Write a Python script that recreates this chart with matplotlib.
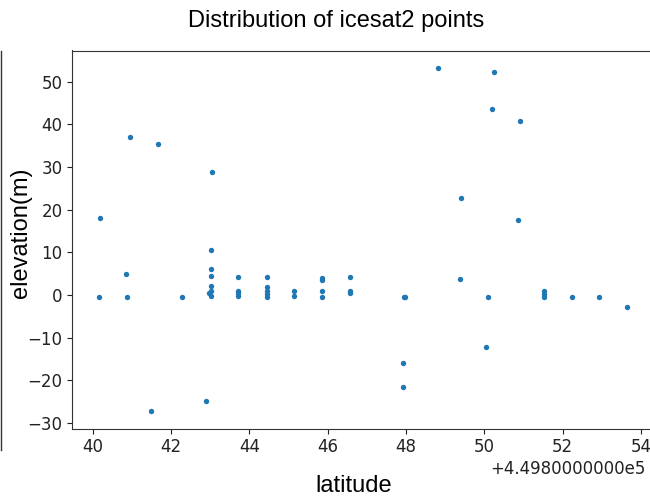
import math
import matplotlib
matplotlib.use("Agg")
import matplotlib.pyplot as plt
from matplotlib.lines import Line2D
from matplotlib.ticker import ScalarFormatter

# icesat2 photon points: latitude and elevation
latitude = [449840.15, 449840.18, 449840.95, 449840.85, 449840.86, 449841.66, 449841.48,
            449842.28, 449842.89, 449843.05, 449843.02, 449843.02, 449843.02, 449843.02,
            449843.02, 449842.97, 449843.02, 449843.71, 449843.71, 449843.71, 449843.71,
            449844.44, 449844.44, 449844.44, 449844.44, 449844.44, 449845.13, 449845.13,
            449845.85, 449845.85, 449845.85, 449845.85, 449846.56, 449846.56, 449846.56,
            449847.95, 449847.98, 449847.93, 449847.93, 449848.81, 449849.40, 449849.39,
            449850.05, 449850.09, 449850.19, 449850.24, 449850.86, 449850.90, 449851.53,
            449851.53, 449851.53, 449852.23, 449852.94, 449853.65]
elevation = [-0.4, 18.0, 37.0, 4.9, -0.4, 35.3, -27.3,
             -0.4, -24.9, 28.8, 10.5, 6.0, 4.5, 2.1,
             1.0, 0.5, -0.3, 4.1, 1.0, 0.4, -0.3,
             4.1, 1.9, 1.0, 0.3, -0.4, 1.0, -0.3,
             4.0, 3.4, 1.0, -0.4, 4.1, 1.0, 0.4,
             -0.4, -0.5, -15.9, -21.6, 53.3, 22.8, 3.7,
             -12.1, -0.4, 43.6, 52.4, 17.5, 40.7, 1.0,
             0.3, -0.4, -0.4, -0.4, -2.8]


class LongOffsetFormatter(ScalarFormatter):
    # offset written with the full 10-digit mantissa
    def get_offset(self):
        if not self.offset:
            return super().get_offset()
        e = math.floor(math.log10(abs(self.offset)))
        return "%+1.10fe%d" % (self.offset / 10 ** e, e)


W, H = 650, 496
fig = plt.figure(figsize=(W / 100, H / 100), dpi=100)

# axes placed in pixel units
left, right, top, bottom = 72.3, 653.7, 50.5, 428.5
ax = fig.add_axes([left / W, (H - bottom) / H, (right - left) / W, (bottom - top) / H])

ax.scatter(latitude, elevation, s=15, color="#1f77b4", linewidths=0)

ax.xaxis.set_major_formatter(LongOffsetFormatter())
ax.tick_params(labelsize=12, colors="#222222")
for sp in ax.spines.values():
    sp.set_color("#333333")
off = ax.xaxis.get_offset_text()
off.set_fontsize(12)
off.set_color("#222222")
off.set_x(1 - 8 / (right - left))
ax.set_yticks([-30, -20, -10, 0, 10, 20, 30, 40, 50])

lab_font = "Liberation Sans"
fig.text(336.5 / W, 1 - 27 / H, "Distribution of icesat2 points", ha="center", va="baseline",
         fontsize=17, family=lab_font)
fig.text(354 / W, 1 - 492.5 / H, "latitude", ha="center", va="baseline",
         fontsize=17, family=lab_font)
fig.text(21 / W, 1 - 233 / H, "elevation(m)", ha="center", va="center", rotation=90,
         fontsize=17, family=lab_font)

# edge of the neighbouring panel
fig.add_artist(Line2D([1.2 / W, 1.2 / W], [1 - 50.5 / H, 1 - 450 / H], color="#333333", lw=1.0))

fig.savefig("out.png", dpi=100)
